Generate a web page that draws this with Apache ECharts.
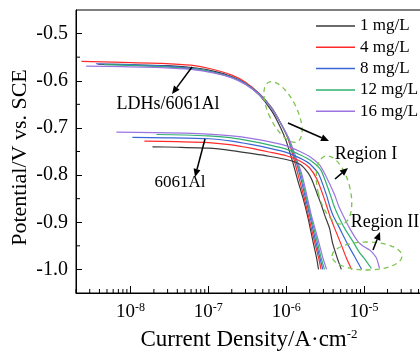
<!DOCTYPE html>
<html><head><meta charset="utf-8">
<script src="https://cdn.jsdelivr.net/npm/echarts@6/dist/echarts.min.js"></script>
<style>html,body{margin:0;padding:0;background:#fff}#c{width:420px;height:353px}</style>
</head><body><div id="c"></div>
<script>
const FONT = "'Liberation Serif','Times New Roman',serif";
const concentrations = ['1 mg/L','4 mg/L','8 mg/L','12 mg/L','16 mg/L'];
const colors = ['#3a3a3a','#ff2b2b','#3b66d6','#30b070','#9b74e0'];

// LDHs/6061Al curves  [current density A/cm2, potential V]
const ldh_1 = [[3.8e-9,-0.565],[1e-8,-0.566],[3e-8,-0.568],[7e-8,-0.573],[1.2e-7,-0.580],[2e-7,-0.591],[3e-7,-0.606],[4.5e-7,-0.630],[6.5e-7,-0.664],[8.5e-7,-0.700],[1.0e-6,-0.728],[1.2e-6,-0.770],[1.4e-6,-0.810],[1.65e-6,-0.850],[1.9e-6,-0.890],[2.2e-6,-0.940],[2.45e-6,-0.975],[2.6e-6,-1.0]];
const ldh_4 = [[2.35e-9,-0.559],[8e-9,-0.561],[2.5e-8,-0.563],[6e-8,-0.567],[1.1e-7,-0.575],[2e-7,-0.588],[3e-7,-0.603],[4.5e-7,-0.627],[6.5e-7,-0.657],[8.5e-7,-0.690],[1.05e-6,-0.722],[1.25e-6,-0.765],[1.45e-6,-0.805],[1.7e-6,-0.848],[1.95e-6,-0.890],[2.3e-6,-0.940],[2.6e-6,-0.975],[2.8e-6,-1.0]];
const ldh_8 = [[3.6e-9,-0.564],[1e-8,-0.566],[3e-8,-0.569],[7e-8,-0.575],[1.2e-7,-0.582],[2e-7,-0.592],[3e-7,-0.606],[4.5e-7,-0.628],[6.5e-7,-0.658],[8.5e-7,-0.690],[1.05e-6,-0.720],[1.3e-6,-0.765],[1.5e-6,-0.800],[1.75e-6,-0.845],[2.0e-6,-0.885],[2.35e-6,-0.935],[2.7e-6,-0.975],[2.95e-6,-1.0]];
const ldh_12 = [[4.6e-9,-0.566],[1.2e-8,-0.568],[3e-8,-0.571],[7e-8,-0.576],[1.2e-7,-0.583],[2e-7,-0.593],[3e-7,-0.607],[4.5e-7,-0.629],[6.5e-7,-0.658],[8.5e-7,-0.690],[1.05e-6,-0.720],[1.3e-6,-0.763],[1.55e-6,-0.800],[1.8e-6,-0.845],[2.05e-6,-0.885],[2.45e-6,-0.935],[2.8e-6,-0.975],[3.1e-6,-1.0]];
const ldh_16 = [[2.7e-9,-0.569],[8e-9,-0.570],[2.5e-8,-0.572],[6e-8,-0.576],[1.2e-7,-0.584],[2e-7,-0.594],[3e-7,-0.608],[4.5e-7,-0.630],[6.5e-7,-0.659],[8.5e-7,-0.690],[1.1e-6,-0.725],[1.35e-6,-0.765],[1.6e-6,-0.800],[1.85e-6,-0.845],[2.1e-6,-0.885],[2.55e-6,-0.935],[2.95e-6,-0.975],[3.3e-6,-1.0]];

// bare 6061Al curves
const al_1 = [[1.92e-8,-0.740],[4e-8,-0.741],[1e-7,-0.743],[2e-7,-0.748],[3.5e-7,-0.754],[6e-7,-0.760],[1e-6,-0.767],[1.5e-6,-0.777],[1.9e-6,-0.795],[2.2e-6,-0.815],[2.5e-6,-0.840],[2.85e-6,-0.865],[3.15e-6,-0.887],[3.6e-6,-0.913],[3.95e-6,-0.945],[4.5e-6,-0.975],[5.1e-6,-1.0]];
const al_4 = [[1.51e-8,-0.728],[4e-8,-0.729],[1e-7,-0.731],[2e-7,-0.736],[3.5e-7,-0.743],[6e-7,-0.751],[1e-6,-0.759],[1.5e-6,-0.770],[2e-6,-0.785],[2.5e-6,-0.810],[2.96e-6,-0.842],[3.3e-6,-0.865],[3.61e-6,-0.885],[4.19e-6,-0.913],[5.1e-6,-0.948],[5.92e-6,-0.976],[6.9e-6,-1.0]];
const al_8 = [[1.06e-8,-0.720],[3e-8,-0.721],[1e-7,-0.723],[2e-7,-0.728],[3.5e-7,-0.735],[6e-7,-0.743],[1e-6,-0.752],[1.5e-6,-0.764],[2e-6,-0.776],[2.6e-6,-0.797],[3.28e-6,-0.842],[3.6e-6,-0.865],[3.98e-6,-0.885],[4.86e-6,-0.913],[6.21e-6,-0.948],[7.57e-6,-0.973],[9.3e-6,-1.0]];
const al_12 = [[2.16e-8,-0.714],[5e-8,-0.715],[1e-7,-0.717],[2e-7,-0.721],[3.5e-7,-0.728],[6e-7,-0.736],[1e-6,-0.745],[1.5e-6,-0.757],[2.1e-6,-0.770],[2.8e-6,-0.790],[3.69e-6,-0.842],[4.1e-6,-0.865],[4.62e-6,-0.885],[5.63e-6,-0.913],[7.2e-6,-0.941],[8.78e-6,-0.965],[1.02e-5,-0.978],[1.24e-5,-0.998]];
const al_16 = [[6.6e-9,-0.709],[2e-8,-0.710],[5e-8,-0.711],[1e-7,-0.713],[2e-7,-0.717],[3.5e-7,-0.722],[6e-7,-0.729],[1e-6,-0.738],[1.5e-6,-0.750],[2.1e-6,-0.763],[2.7e-6,-0.779],[3.3e-6,-0.805],[4.19e-6,-0.842],[4.7e-6,-0.865],[5.36e-6,-0.885],[6.53e-6,-0.913],[8.35e-6,-0.941],[1.0e-5,-0.952],[1.18e-5,-0.959],[1.32e-5,-0.967],[1.44e-5,-0.976],[1.52e-5,-0.988],[1.58e-5,-0.998]];

const ldhSets = [ldh_1, ldh_4, ldh_8, ldh_12, ldh_16];
const alSets = [al_1, al_4, al_8, al_12, al_16];

const xMin = 2e-9, xMax = 1e-4, yMin = -1.05, yMax = -0.45;
const xMinorTicks = [2e-9,3e-9,4e-9,5e-9,6e-9,7e-9,8e-9,9e-9,
  2e-8,3e-8,4e-8,5e-8,6e-8,7e-8,8e-8,9e-8,
  2e-7,3e-7,4e-7,5e-7,6e-7,7e-7,8e-7,9e-7,
  2e-6,3e-6,4e-6,5e-6,6e-6,7e-6,8e-6,9e-6,
  2e-5,3e-5,4e-5,5e-5,6e-5,7e-5,8e-5,9e-5];
const yMinorTicks = [-0.95,-0.85,-0.75,-0.65,-0.55];

const chart = echarts.init(document.getElementById('c'), null, {renderer:'canvas'});

const series = [];
ldhSets.forEach((d,i)=>series.push({name:concentrations[i], type:'line', data:d, symbol:'none', smooth:0.2,
  lineStyle:{color:colors[i], width:1.2}, itemStyle:{color:colors[i]}, z:3}));
alSets.forEach((d,i)=>series.push({name:concentrations[i], type:'line', data:d, symbol:'none', smooth:0.2,
  lineStyle:{color:colors[i], width:1.2}, itemStyle:{color:colors[i]}, z:3}));
series.push({type:'custom', name:'xminor', silent:true, clip:false, z:5,
  data:xMinorTicks.map(v=>[v,yMin]), encode:{x:0,y:1},
  renderItem:function(params, api){ const p = api.coord([api.value(0), api.value(1)]);
    return {type:'line', shape:{x1:p[0],y1:p[1],x2:p[0],y2:p[1]-4}, style:{stroke:'#000',lineWidth:1}}; }});
series.push({type:'custom', name:'yminor', silent:true, clip:false, z:5,
  data:yMinorTicks.map(v=>[xMin,v]), encode:{x:0,y:1},
  renderItem:function(params, api){ const p = api.coord([api.value(0), api.value(1)]);
    return {type:'line', shape:{x1:p[0],y1:p[1],x2:p[0]+4,y2:p[1]}, style:{stroke:'#000',lineWidth:1}}; }});

function arrowEls(x1,y1,x2,y2){
  const dx=x2-x1, dy=y2-y1, L=Math.hypot(dx,dy), ux=dx/L, uy=dy/L, hl=8, hw=3.5;
  const bx=x2-ux*hl, by=y2-uy*hl;
  return [{type:'line', shape:{x1:x1,y1:y1,x2:bx,y2:by}, style:{stroke:'#000',lineWidth:1.5}, z:10},
          {type:'polygon', shape:{points:[[x2,y2],[bx-uy*hw,by+ux*hw],[bx+uy*hw,by-ux*hw]]}, style:{fill:'#000'}, z:10}];
}
const dashGreen = {stroke:'#7cc44e', fill:null, lineWidth:1.3, lineDash:[5,4]};
const graphics = [
  {type:'ellipse', x:283, y:112, rotation:0.45, shape:{cx:0,cy:0,rx:14,ry:33}, style:dashGreen, z:10},
  {type:'ellipse', x:334, y:190, rotation:0.25, shape:{cx:0,cy:0,rx:16,ry:35}, style:dashGreen, z:10},
  {type:'ellipse', x:367, y:256, rotation:0, shape:{cx:0,cy:0,rx:35,ry:14}, style:dashGreen, z:10},
  {type:'text', x:168, y:104, style:{text:'LDHs/6061Al', font:'18px '+FONT, fill:'#000', textAlign:'center', textVerticalAlign:'middle'}, z:10},
  {type:'text', x:180, y:183, style:{text:'6061Al', font:'17px '+FONT, fill:'#000', textAlign:'center', textVerticalAlign:'middle'}, z:10},
  {type:'text', x:366, y:154, style:{text:'Region I', font:'18px '+FONT, fill:'#000', textAlign:'center', textVerticalAlign:'middle'}, z:10},
  {type:'text', x:385, y:222, style:{text:'Region II', font:'18px '+FONT, fill:'#000', textAlign:'center', textVerticalAlign:'middle'}, z:10}
].concat(arrowEls(192,67,172,94), arrowEls(205,139,195,177), arrowEls(288,123,329,141),
         arrowEls(335,179,348,168), arrowEls(373,250,380,232));

chart.setOption({
  animation:false,
  backgroundColor:'#fff',
  grid:{left:76, top:10, width:366, height:283, show:true, borderColor:'#000', borderWidth:1,
    containLabel:false, outerBoundsMode:'none'},
  legend:{data:concentrations, orient:'vertical', left:316, top:17, padding:0, icon:'rect', itemWidth:39, itemHeight:1.5, itemGap:3.3,
    textStyle:{fontFamily:FONT, fontSize:17, color:'#000', lineHeight:18}},
  xAxis:{type:'log', logBase:10, min:xMin, max:xMax,
    axisLine:{lineStyle:{color:'#000',width:1}},
    axisTick:{inside:true, length:7, lineStyle:{color:'#000'}},
    splitLine:{show:false},
    axisLabel:{margin:9, color:'#000', fontFamily:FONT, hideOverlap:false,
      formatter:function(v){ const e=Math.log10(v); if(Math.abs(e-Math.round(e))>1e-6) return ''; return '{b|10}{s|'+Math.round(e)+'}'; },
      rich:{b:{fontSize:19, fontFamily:FONT, color:'#000'}, s:{fontSize:12, fontFamily:FONT, color:'#000', padding:[0,0,9,0]}}},
    name:'{n|Current Density/A·cm}{s|-2}', nameLocation:'middle', nameGap:35,
    nameTextStyle:{padding:[0,20,0,0], rich:{n:{fontSize:23, fontFamily:FONT, color:'#000'}, s:{fontSize:13, fontFamily:FONT, color:'#000', padding:[0,0,10,0]}}}},
  yAxis:{type:'value', min:yMin, max:yMax,
    axisLine:{show:true, lineStyle:{color:'#000',width:1}},
    axisTick:{show:true, inside:true, length:6, lineStyle:{color:'#000'}},
    splitLine:{show:false},
    axisLabel:{margin:8, color:'#000', fontFamily:FONT, fontSize:20, showMinLabel:false, showMaxLabel:false,
      formatter:function(v){ if(Math.abs(v*10-Math.round(v*10))>1e-6) return ''; return v.toFixed(1); }},
    name:'Potential/V vs. SCE', nameLocation:'middle', nameGap:45, nameMoveOverlap:false,
    nameTextStyle:{fontSize:22, fontFamily:FONT, color:'#000', padding:[0,12,0,0]}},
  series:series,
  graphic:graphics
});
</script></body></html>
